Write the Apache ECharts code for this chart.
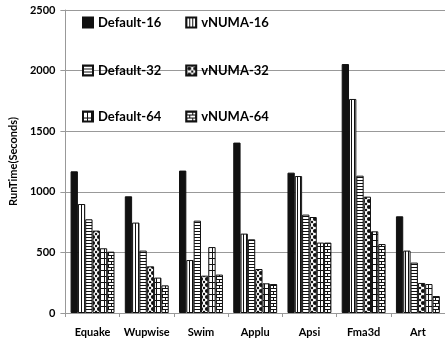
<!DOCTYPE html>
<html>
<head>
<meta charset="utf-8">
<script src="https://cdn.jsdelivr.net/npm/echarts@6/dist/echarts.min.js"></script>
<style>
  html, body { margin: 0; padding: 0; background: #fff; }
  #chart { width: 445px; height: 344px; }
</style>
</head>
<body>
<div id="chart"></div>
<script>
// Benchmarks on the x axis
var categories = ['Equake', 'Wupwise', 'Swim', 'Applu', 'Apsi', 'Fma3d', 'Art'];

// Run time in seconds for each configuration
var default16 = [1169, 963, 1175, 1406, 1158, 2054, 798];
var vnuma16   = [899, 746, 437, 655, 1130, 1766, 515];
var default32 = [773, 515, 762, 608, 812, 1133, 416];
var vnuma32   = [680, 385, 308, 363, 792, 960, 248];
var default64 = [534, 292, 544, 245, 581, 674, 239];
var vnuma64   = [506, 228, 317, 239, 581, 569, 140];

var yTicks = [0, 500, 1000, 1500, 2000, 2500];

// Small tile canvases used as fill patterns for the bars
function tile(w, h, draw) {
  var c = document.createElement('canvas');
  c.width = w; c.height = h;
  var ctx = c.getContext('2d');
  ctx.fillStyle = '#fff';
  ctx.fillRect(0, 0, w, h);
  ctx.fillStyle = '#111';
  draw(ctx);
  return { image: c, repeat: 'repeat' };
}

var patVStripe = tile(3, 4, function (ctx) { ctx.fillRect(0, 0, 1, 4); });
var patHStripe = tile(4, 3, function (ctx) { ctx.fillRect(0, 0, 4, 1); });
var patDots = tile(6, 6, function (ctx) {
  ctx.beginPath(); ctx.arc(3, 3, 2.1, 0, Math.PI * 2); ctx.fill();
  [[0, 0], [6, 0], [0, 6], [6, 6]].forEach(function (p) {
    ctx.beginPath(); ctx.arc(p[0], p[1], 1.2, 0, Math.PI * 2); ctx.fill();
  });
});
var patGrid = tile(4, 6, function (ctx) {
  ctx.fillRect(0, 0, 4, 1);
  ctx.fillRect(0, 0, 1, 6);
});
var patBrick = tile(6, 6, function (ctx) {
  ctx.fillRect(0, 0, 6, 1);
  ctx.fillRect(0, 3, 6, 1);
  ctx.fillRect(0, 0, 1, 3);
  ctx.fillRect(3, 3, 1, 3);
});

var seriesDefs = [
  { name: 'Default-16', data: default16, color: '#111111' },
  { name: 'vNUMA-16',   data: vnuma16,   color: patVStripe },
  { name: 'Default-32', data: default32, color: patHStripe },
  { name: 'vNUMA-32',   data: vnuma32,   color: patDots },
  { name: 'Default-64', data: default64, color: patGrid },
  { name: 'vNUMA-64',   data: vnuma64,   color: patBrick }
];

var font = 'Lato';

function legendRow(names, top) {
  return {
    data: names,
    left: 82,
    top: top,
    padding: 0,
    icon: 'rect',
    itemWidth: 10,
    itemHeight: 10,
    itemGap: 24,
    selectedMode: false,
    textStyle: { fontFamily: font, fontWeight: 'bold', fontSize: 13, color: '#000' }
  };
}

var chart = echarts.init(document.getElementById('chart'), null, { renderer: 'canvas' });
chart.setOption({
  animation: false,
  backgroundColor: '#fff',
  grid: { left: 53, right: -4, top: 10, bottom: 31, containLabel: false },
  legend: [
    legendRow(['Default-16', 'vNUMA-16'], 16),
    legendRow(['Default-32', 'vNUMA-32'], 64),
    legendRow(['Default-64', 'vNUMA-64'], 110)
  ],
  xAxis: {
    type: 'category',
    data: categories,
    axisLine: { lineStyle: { color: '#999', width: 1 } },
    axisTick: { show: true, length: 4, lineStyle: { color: '#999' } },
    axisLabel: { interval: 0, margin: 14, fontFamily: font, fontWeight: 'bold', fontSize: 11, color: '#000' }
  },
  yAxis: {
    type: 'value',
    min: yTicks[0],
    max: yTicks[yTicks.length - 1],
    interval: 500,
    name: 'RunTime(Seconds)',
    nameLocation: 'middle',
    nameGap: 37,
    nameTextStyle: { fontFamily: font, fontWeight: 'bold', fontSize: 11, color: '#000' },
    axisLine: { show: true, lineStyle: { color: '#999', width: 1 } },
    axisTick: { show: true, length: 5, lineStyle: { color: '#999' } },
    axisLabel: {
      margin: 10, fontFamily: font, fontWeight: 'bold', fontSize: 11, color: '#000',
      formatter: function (v) { return String(v); }
    },
    splitLine: { lineStyle: { color: '#999', width: 1 } }
  },
  series: seriesDefs.map(function (s) {
    return {
      name: s.name,
      type: 'bar',
      data: s.data,
      barGap: 0,
      barCategoryGap: '19%',
      itemStyle: { color: s.color, borderColor: '#111', borderWidth: 1 }
    };
  })
});
</script>
</body>
</html>
